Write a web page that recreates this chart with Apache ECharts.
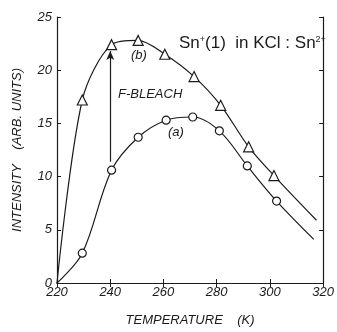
<!DOCTYPE html>
<html><head><meta charset="utf-8">
<script src="https://cdn.jsdelivr.net/npm/echarts@6/dist/echarts.min.js"></script>
<style>html,body{margin:0;padding:0;background:#fff}#c{width:337px;height:332px}</style>
</head><body><div id="c"></div>
<script>
// Curve (b): after F-bleach (triangles)
const tempB = [220, 229.5, 240.5, 250.5, 260.5, 271.5, 281.5, 292, 301.5, 317.5];
const intB  = [0, 17.2, 22.4, 22.8, 21.5, 19.4, 16.7, 12.8, 10.1, 5.9];
// Curve (a): before bleach (circles)
const tempA = [220, 229.5, 240.5, 250.5, 261, 271, 281, 291.5, 302.5, 316.5];
const intA  = [0, 2.8, 10.6, 13.7, 15.3, 15.6, 14.3, 11.0, 7.7, 4.1];
// F-bleach arrow (x, from, to)
const arrowX = 240;
const arrowFrom = 11.4;
const arrowTo = 21.8;
const xTicks = [220, 240, 260, 280, 300, 320];
const yTicks = [0, 5, 10, 15, 20, 25];

const FONT = "'Liberation Sans Narrow','Liberation Sans',Arial,sans-serif";
const INK = '#1b1b1b';

function pts(xs, ys) {
  return xs.map((x, i) => {
    const item = { value: [x, ys[i]] };
    if (i === 0 || i === xs.length - 1) item.symbol = 'none';
    return item;
  });
}

const chart = echarts.init(document.getElementById('c'), null, { renderer: 'canvas' });
const axisLine = { show: true, lineStyle: { color: INK, width: 1.2 } };
const tickIn = { show: true, inside: true, length: 4, lineStyle: { color: INK, width: 1 } };
chart.setOption({
  animation: false,
  backgroundColor: '#fff',
  grid: { left: 57, right: 10, top: 17, bottom: 44 },
  xAxis: [{
    type: 'value', min: 220, max: 320, interval: 20,
    axisLine, axisTick: tickIn, splitLine: { show: false },
    axisLabel: { color: INK, fontStyle: 'italic', fontFamily: FONT, fontSize: 13, margin: 3 },
    name: 'TEMPERATURE    (K)', nameLocation: 'middle', nameGap: 31,
    nameTextStyle: { color: INK, fontStyle: 'italic', fontFamily: FONT, fontSize: 13 }
  }, {
    type: 'value', min: 220, max: 320, interval: 20, position: 'top',
    axisLine, axisTick: tickIn, axisLabel: { show: false }, splitLine: { show: false }
  }],
  yAxis: [{
    type: 'value', min: 0, max: 25, interval: 5,
    axisLine, axisTick: tickIn, splitLine: { show: false },
    axisLabel: { color: INK, fontStyle: 'italic', fontFamily: FONT, fontSize: 13, margin: 5 },
    name: 'INTENSITY    (ARB. UNITS)', nameLocation: 'middle', nameGap: 33, nameRotate: 90,
    nameTextStyle: { color: INK, fontStyle: 'italic', fontFamily: FONT, fontSize: 13 }
  }, {
    type: 'value', min: 0, max: 25, interval: 5, position: 'right',
    axisLine, axisTick: tickIn, axisLabel: { show: false }, splitLine: { show: false }
  }],
  series: [{
    name: '(b)', type: 'line', smooth: 0.3,
    data: pts(tempB, intB),
    symbol: 'triangle', symbolSize: 10,
    itemStyle: { color: '#fff', borderColor: INK, borderWidth: 1.2 },
    lineStyle: { color: INK, width: 1.2 },
    markLine: {
      silent: true, symbol: ['none', 'arrow'], symbolSize: [6, 9],
      label: { show: false },
      lineStyle: { color: INK, width: 1.2, type: 'solid' },
      data: [[{ coord: [arrowX, arrowFrom] }, { coord: [arrowX, arrowTo] }]]
    }
  }, {
    name: '(a)', type: 'line', smooth: 0.35,
    data: pts(tempA, intA),
    symbol: 'circle', symbolSize: 8,
    itemStyle: { color: '#fff', borderColor: INK, borderWidth: 1.2 },
    lineStyle: { color: INK, width: 1.2 }
  }],
  graphic: [
    { type: 'text', left: 131, top: 49, style: { text: '(b)', fill: INK, font: 'italic 13px ' + FONT } },
    { type: 'text', left: 118, top: 88, style: { text: 'F-BLEACH', fill: INK, font: 'italic 13px ' + FONT } },
    { type: 'text', left: 168, top: 126, style: { text: '(a)', fill: INK, font: 'italic 13px ' + FONT } },
    { type: 'text', left: 179, top: 35, style: {
      rich: {
        n: { fill: INK, fontFamily: FONT, fontSize: 17 },
        s: { fill: INK, fontFamily: FONT, fontSize: 9, verticalAlign: 'top', padding: [0, 0, 8, 0] }
      },
      text: '{n|Sn}{s|+}{n|(1)  in KCl : Sn}{s|2+}'
    } }
  ]
});
</script></body></html>
